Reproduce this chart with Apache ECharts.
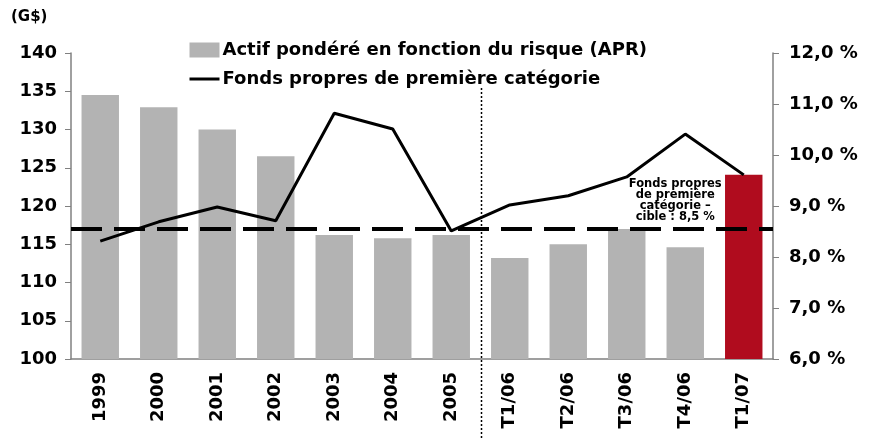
<!DOCTYPE html>
<html>
<head>
<meta charset="utf-8">
<script src="https://cdn.jsdelivr.net/npm/echarts@6/dist/echarts.min.js"></script>
<style>
  html, body { margin: 0; padding: 0; background: #fff; }
  #chart { width: 872px; height: 446px; }
</style>
</head>
<body>
<div id="chart"></div>
<script>
const categories = ['1999', '2000', '2001', '2002', '2003', '2004', '2005', 'T1/06', 'T2/06', 'T3/06', 'T4/06', 'T1/07'];
const apr = [134.5, 132.9, 130.0, 126.5, 116.2, 115.8, 116.2, 113.2, 115.0, 117.0, 114.6, 124.1];
const tier1 = [8.31, 8.69, 8.98, 8.71, 10.82, 10.51, 8.51, 9.02, 9.20, 9.57, 10.41, 9.61];
const targetLeft = 117;
const leftTicks = { min: 100, max: 140, interval: 5 };
const rightTicks = { min: 6, max: 12, interval: 1 };

const FONT = 'DejaVu Sans';
const gray = '#b3b3b3';
const red = '#b00c1e';

const chart = echarts.init(document.getElementById('chart'));

const barData = apr.map((v, i) => ({
  value: v,
  itemStyle: { color: i === apr.length - 1 ? red : gray }
}));

chart.setOption({
  animation: false,
  textStyle: { fontFamily: FONT },
  grid: { left: 71, right: 99, top: 53, bottom: 87 },
  legend: {
    orient: 'vertical',
    left: 183,
    top: 36,
    itemGap: 11,
    itemWidth: 30,
    itemHeight: 15,
    textStyle: { fontFamily: FONT, fontWeight: 'bold', fontSize: 18, color: '#000', padding: [0, 0, 0, -2] },
    data: [
      { name: 'Actif pondéré en fonction du risque (APR)', icon: 'rect', itemStyle: { color: gray } },
      { name: 'Fonds propres de première catégorie', itemStyle: { opacity: 0 }, lineStyle: { color: '#000', width: 3 } }
    ]
  },
  xAxis: {
    type: 'category',
    data: categories,
    axisLine: { lineStyle: { color: '#808080', width: 1.5 } },
    axisTick: { show: false },
    axisLabel: {
      rotate: 90,
      interval: 0,
      margin: 13,
      fontFamily: FONT,
      fontWeight: 'bold',
      fontSize: 18,
      color: '#000'
    }
  },
  yAxis: [
    {
      type: 'value',
      min: leftTicks.min,
      max: leftTicks.max,
      interval: leftTicks.interval,
      name: '(G$)',
      nameLocation: 'end',
      nameGap: 28,
      nameTextStyle: { fontFamily: FONT, fontWeight: 'bold', fontSize: 15, color: '#000', align: 'left', padding: [0, 0, 0, -60] },
      axisLine: { show: true, lineStyle: { color: '#808080', width: 1.5 } },
      axisTick: { show: true, inside: false, length: 6, lineStyle: { color: '#808080' } },
      splitLine: { show: false },
      axisLabel: { margin: 14, fontFamily: FONT, fontWeight: 'bold', fontSize: 18, color: '#000' }
    },
    {
      type: 'value',
      min: rightTicks.min,
      max: rightTicks.max,
      interval: rightTicks.interval,
      position: 'right',
      axisLine: { show: true, lineStyle: { color: '#808080', width: 1.5 } },
      axisTick: { show: true, length: 6, lineStyle: { color: '#808080' } },
      splitLine: { show: false },
      axisLabel: {
        margin: 16,
        fontFamily: FONT,
        fontWeight: 'bold',
        fontSize: 18,
        color: '#000',
        formatter: v => v.toFixed(1).replace('.', ',') + ' %'
      }
    }
  ],
  series: [
    {
      name: 'Actif pondéré en fonction du risque (APR)',
      type: 'bar',
      yAxisIndex: 0,
      barWidth: '64%',
      data: barData,
      itemStyle: { color: gray },
      markLine: {
        silent: true,
        symbol: 'none',
        label: { show: false },
        lineStyle: { color: '#000', width: 4, type: [31, 12] },
        data: [{ yAxis: targetLeft }]
      }
    },
    {
      name: 'Fonds propres de première catégorie',
      type: 'line',
      yAxisIndex: 1,
      data: tier1,
      symbol: 'none',
      lineStyle: { color: '#000', width: 3 },
      itemStyle: { color: '#000' },
      z: 5
    }
  ]
});

// vertical dotted separator between 2005 and T1/06, annotation for the target line
const x2005 = chart.convertToPixel({ xAxisIndex: 0 }, '2005');
const xQ1 = chart.convertToPixel({ xAxisIndex: 0 }, 'T1/06');
const sepX = Math.round((x2005 + xQ1) / 2) + 0.5;
const xQ4 = chart.convertToPixel({ xAxisIndex: 0 }, 'T4/06');
chart.setOption({
  graphic: [
    {
      type: 'line',
      shape: { x1: sepX, y1: 88, x2: sepX, y2: 440 },
      style: { stroke: '#000', lineWidth: 1.5, lineDash: [2, 2] },
      z: 10
    },
    {
      type: 'text',
      x: xQ4 - 10,
      y: 179,
      style: {
        text: 'Fonds propres\nde première\ncatégorie –\ncible : 8,5 %',
        fill: '#000',
        font: 'bold 11.5px "' + FONT + '"',
        align: 'center',
        lineHeight: 11
      },
      z: 10
    }
  ]
});
</script>
</body>
</html>
